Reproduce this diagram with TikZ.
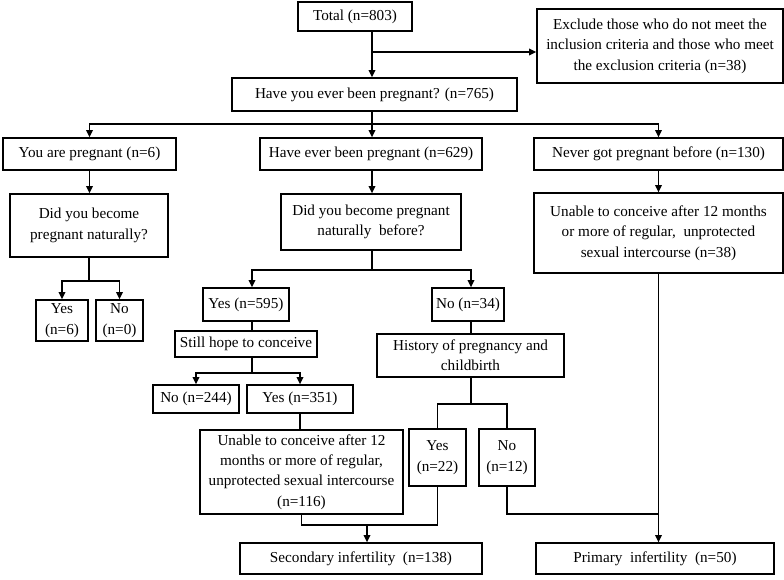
\documentclass[tikz,border=0pt]{standalone}
\usepackage{fontspec}
\setmainfont{Liberation Serif}
\usetikzlibrary{arrows.meta}
\newcommand{\bx}[6]{\node[box, minimum width={(#4-#2)*0.75pt}, minimum height={(#5-#3)*0.75pt}] (#1) at ({(#2+#4)/2},{(#3+#5)/2}) {#6};}
\begin{document}
\begin{tikzpicture}[x=0.75pt,y=-0.75pt,
  box/.style={draw, line width=1pt, inner sep=0pt, align=center, font=\fontsize{11.4}{15.3}\selectfont},
  ln/.style={line width=1pt},
  arr/.style={ln, -{Triangle[length=5.5pt,width=5pt]}}]
\useasboundingbox (0,0) rectangle (784,579);
% boxes
\bx{total}{298}{2}{412}{31}{Total (n=803)}
\bx{excl}{537}{9}{783}{83}{Exclude those who do not meet the\\inclusion\ criteria and those who meet\\the exclusion\ criteria (n=38)}
\bx{have}{232}{78}{517}{111}{Have you ever been pregnant? (n=765)}
\bx{youare}{3}{138}{176}{170}{You are pregnant (n=6)}
\bx{haveever}{260}{138}{482}{170}{Have ever been pregnant (n=629)}
\bx{never}{534}{138}{783}{170}{Never got pregnant before (n=130)}
\bx{didyou}{10}{194}{168}{257}{Did you become\\pregnant naturally?}
\bx{didnat}{281}{194}{461}{250}{Did you become pregnant\\naturally\ \ before?}
\bx{u38}{534}{193}{783}{273}{Unable to conceive after 12 months\\or more of regular,\ \ unprotected\\sexual intercourse (n=38)}
\bx{yes6}{36}{300}{88}{341}{Yes\\(n=6)}
\bx{no0}{96}{300}{143}{341}{No\\(n=0)}
\bx{yes595}{203}{288}{289}{321}{Yes (n=595)}
\bx{no34}{432}{288}{504}{321}{No (n=34)}
\bx{still}{175}{331}{317}{357}{Still hope to conceive}
\bx{hist}{377}{334}{564}{377}{History of pregnancy and\\childbirth}
\bx{no244}{153}{385}{239}{413}{No (n=244)}
\bx{yes351}{247}{385}{353}{413}{Yes (n=351)}
\bx{u116}{200}{430}{403}{514}{Unable to conceive after 12\\months or more of regular,\\unprotected sexual intercourse\\(n=116)}
\bx{yes22}{409}{429}{466}{486}{Yes\\(n=22)}
\bx{no12}{479}{429}{535}{486}{No\\(n=12)}
\bx{sec}{240}{543}{482}{574}{Secondary infertility\ \ (n=138)}
\bx{prim}{536}{543}{774}{574}{Primary\ \ infertility\ \ (n=50)}
% junctions
\coordinate (j1) at (372,52);
\coordinate (j2) at (372,124);
\coordinate (j3) at (89,281);
\coordinate (j4) at (372,270);
\coordinate (xY) at (252,0);
\coordinate (xN) at (471,0);
\coordinate (j5) at (252,373);
\coordinate (j6) at (471,404);
\coordinate (j7) at (367,525);
\coordinate (j8) at (658.5,514);
% connectors
\draw[arr] (total.south -| j1) -- (have.north -| j1);
\draw[arr] (j1) -- (excl.west |- j1);
\draw[ln] (have.south -| j2) -- (j2);
\draw[arr] (j2) -| (youare.north);
\draw[arr] (j2) -| (never.north);
\draw[arr] (j2) -- (haveever.north -| j2);
\draw[arr] (youare.south) -- (youare.south |- didyou.north);
\draw[ln] (didyou.south) -- (j3);
\draw[arr] (j3) -| (yes6.north);
\draw[arr] (j3) -| (no0.north);
\draw[arr] (haveever.south -| j2) -- (didnat.north -| j2);
\draw[ln] (didnat.south -| j4) -- (j4);
\draw[arr] (j4) -| (yes595.north -| xY);
\draw[arr] (j4) -| (no34.north -| xN);
\draw[arr] (never.south) -- (never.south |- u38.north);
\draw[ln] (yes595.south -| xY) -- (still.north -| xY);
\draw[ln] (still.south -| j5) -- (j5);
\draw[arr] (j5) -| (no244.north);
\draw[arr] (j5) -| (yes351.north);
\draw[ln] (yes351.south) -- (yes351.south |- u116.north);
\draw[ln] (no34.south -| xN) -- (hist.north -| xN);
\draw[ln] (hist.south -| j6) -- (j6);
\draw[ln] (j6) -| (yes22.north);
\draw[ln] (j6) -| (no12.north);
\draw[ln] (u116.south) |- (yes22.south |- j7) -- (yes22.south);
\draw[arr] (j7) -- (sec.north -| j7);
\draw[ln] (no12.south) |- (j8);
\draw[arr] (u38.south) -- (u38.south |- prim.north);
\end{tikzpicture}
\end{document}
